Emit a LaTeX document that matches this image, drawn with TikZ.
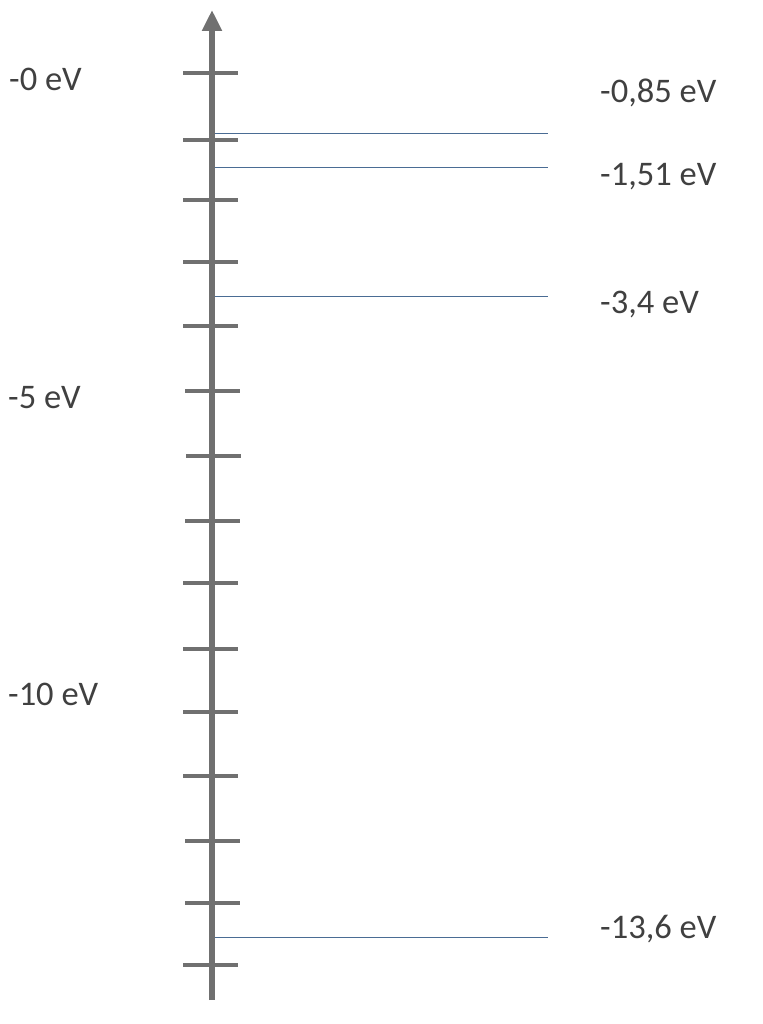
\documentclass[tikz,border=0pt]{standalone}
\usepackage{fontspec}
\setmainfont{Carlito}
\usetikzlibrary{arrows.meta}
\definecolor{axisgray}{RGB}{112,112,112}
\definecolor{txtgray}{RGB}{64,64,64}
\definecolor{levelblue}{RGB}{74,108,148}
\tikzset{
  axisline/.style={draw=axisgray, line width=6.5pt, -{Triangle[width=19pt,length=21pt]}},
  tickmark/.style={draw=axisgray, line width=4.5pt},
  levelline/.style={draw=levelblue, line width=1.8pt},
  lbl/.style={anchor=base west, inner sep=0pt, text=txtgray, font=\fontsize{34.5}{40}\selectfont},
}
\begin{document}
\begin{tikzpicture}[x=1pt,y=-1pt]
\useasboundingbox (0,0) rectangle (762,1024);
\coordinate (axbot) at (212,1000);
\coordinate (axtop) at (212,10);
\draw[axisline] (axbot) -- (axtop);
\foreach \yy/\xa in {73/183,140/183,200/183,262/183,326/183,391/185,456/186,521/185,583/183,649/183,712/183,776/183,841/185,903/185,965/183}{
  \coordinate (tl) at (\xa,\yy);
  \coordinate (tr) at (\xa+55,\yy);
  \draw[tickmark] (tl) -- (tr);
}
\foreach \nm/\yy in {l1/133.5,l2/167.5,l3/296.5,l4/937.5}{
  \coordinate (\nm a) at (215,\yy);
  \coordinate (\nm b) at (548,\yy);
  \draw[levelline] (\nm a) -- (\nm b);
}
\node[lbl] (t0) at (9,91) {-0 eV};
\node[lbl] (t5) at (8,408) {-5 eV};
\node[lbl] (t10) at (8,705) {-10 eV};
\node[lbl] (e4) at (600,103) {-0,85 eV};
\node[lbl] (e3) at (600,186) {-1,51 eV};
\node[lbl] (e2) at (600,313) {-3,4 eV};
\node[lbl] (e1) at (600,938) {-13,6 eV};
\end{tikzpicture}
\end{document}
